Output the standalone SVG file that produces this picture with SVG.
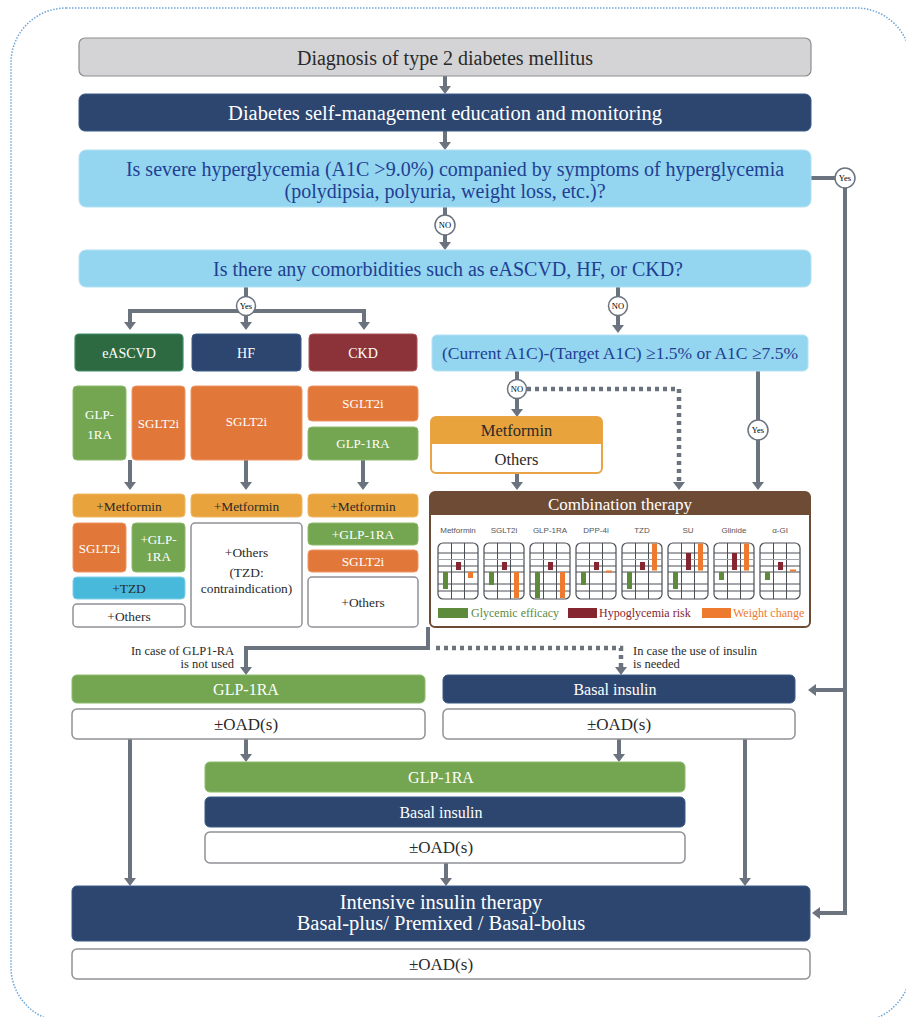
<svg xmlns="http://www.w3.org/2000/svg" width="906" height="1017" viewBox="0 0 906 1017">
<style>
text{font-family:"Liberation Serif","Times New Roman",serif;dominant-baseline:central;text-anchor:middle}
.gray{fill:#d4d4d6;stroke:#8e8e90;stroke-width:1.2}
.navy{fill:#2c4670;stroke:#3a5a86;stroke-width:1}
.q{fill:#94d5f0;stroke:#b3e1f4;stroke-width:1}
.qt{fill:#1f3f93;font-size:20px}
.wt{fill:#fff}
.green{fill:#74a652;stroke:#8cbb6c;stroke-width:1}
.orange{fill:#e2773a;stroke:#ec9664;stroke-width:1}
.gold{fill:#e8a33d;stroke:#eeb865;stroke-width:1}
.cyan{fill:#48b9da;stroke:#7fd0e8;stroke-width:1}
.white{fill:#fff;stroke:#8e9196;stroke-width:1.5}
.dk{fill:#2a2a2a}
.con{fill:none;stroke:#6b737e;stroke-width:4}
.dot{fill:none;stroke:#6b737e;stroke-width:4.5;stroke-dasharray:4 4}
.circ{fill:#fff;stroke:#6b737e;stroke-width:1.5}
.ch{fill:#fff;stroke:#4a4f55;stroke-width:1.2}
.gl{stroke:#4a4f55;stroke-width:1}
.gl2{stroke:#a0a4a8;stroke-width:1.2}
.lab{font-family:"Liberation Sans",Arial,sans-serif;font-size:8px;fill:#555}
.bg{fill:#5e8a3c}.br{fill:#852530}.bo{fill:#ee7a30}
</style>
<defs>
<marker id="ah" viewBox="0 0 10 10" refX="2" refY="5" markerWidth="8" markerHeight="12" markerUnits="userSpaceOnUse" orient="auto" preserveAspectRatio="none"><path d="M0,0 L10,5 L0,10 z" fill="#6b737e"/></marker>
</defs>
<rect x="11" y="8" width="900" height="1014" rx="55" fill="none" stroke="#6fa6d6" stroke-width="1.5" stroke-dasharray="1.5 1.5"/>

<g id="connectors">
<path class="con" d="M445,76 V87.6" marker-end="url(#ah)"/>
<path class="con" d="M445,131 V143.6" marker-end="url(#ah)"/>
<path class="con" d="M445,207 V243.6" marker-end="url(#ah)"/>
<path class="con" d="M811,178 H845 V913 H818.4" marker-end="url(#ah)"/>
<path class="con" d="M845,690 H814.4" marker-end="url(#ah)"/>
<path class="con" d="M246,287 V311"/>
<path class="con" d="M246,311 H130 V323.6" marker-end="url(#ah)"/>
<path class="con" d="M246,311 H364 V323.6" marker-end="url(#ah)"/>
<path class="con" d="M246,311 V323.6" marker-end="url(#ah)"/>
<path class="con" d="M618,287 V326.6" marker-end="url(#ah)"/>
<path class="con" d="M130,460 V483.6" marker-end="url(#ah)"/>
<path class="con" d="M246,460 V483.6" marker-end="url(#ah)"/>
<path class="con" d="M363,460 V483.6" marker-end="url(#ah)"/>
<path class="con" d="M517,371 V410.6" marker-end="url(#ah)"/>
<path class="dot" d="M527,389 H679 V483.6" marker-end="url(#ah)"/>
<path class="con" d="M517,473 V483.6" marker-end="url(#ah)"/>
<path class="con" d="M758,371 V483.6" marker-end="url(#ah)"/>
<path class="con" d="M428,627 V648 H246 V668.6" marker-end="url(#ah)"/>
<path class="dot" d="M436,648 H621 V668.6" marker-end="url(#ah)"/>
<path class="con" d="M130,739 V879.6" marker-end="url(#ah)"/>
<path class="con" d="M246,739 V755.6" marker-end="url(#ah)"/>
<path class="con" d="M619,739 V755.6" marker-end="url(#ah)"/>
<path class="con" d="M745,739 V879.6" marker-end="url(#ah)"/>
<path class="con" d="M446,863 V879.6" marker-end="url(#ah)"/>
<circle class="circ" cx="445" cy="225" r="10"/><text x="445" y="225" font-size="8.5">NO</text>
<circle class="circ" cx="845" cy="178" r="10"/><text x="845" y="178" font-size="8.5">Yes</text>
<circle class="circ" cx="246" cy="306" r="9.5"/><text x="246" y="306" font-size="8.5">Yes</text>
<circle class="circ" cx="618" cy="306" r="9.5"/><text x="618" y="306" font-size="8.5">NO</text>
<circle class="circ" cx="517" cy="389" r="9.5"/><text x="517" y="389" font-size="8.5">NO</text>
<circle class="circ" cx="758" cy="430" r="10"/><text x="758" y="430" font-size="8.5">Yes</text>
<text x="234" y="651" font-size="12.5" style="text-anchor:end" class="dk">In case of GLP1-RA</text>
<text x="234" y="664" font-size="12.5" style="text-anchor:end" class="dk">is not used</text>
<text x="633" y="651" font-size="12.5" style="text-anchor:start" class="dk">In case the use of insulin</text>
<text x="633" y="664" font-size="12.5" style="text-anchor:start" class="dk">is needed</text>
</g>

<g id="diagnosis"><rect class="gray" x="79" y="38" width="732" height="38" rx="6"/><text x="445" y="58" font-size="20" class="dk">Diagnosis of type 2 diabetes mellitus</text></g>
<g id="education"><rect class="navy" x="79" y="94" width="732" height="37" rx="6"/><text x="445" y="113" font-size="20.5" class="wt">Diabetes self-management education and monitoring</text></g>
<g id="q-severe"><rect class="q" x="79" y="150" width="732" height="57" rx="7"/><text x="455" y="169" class="qt">Is severe hyperglycemia (A1C &gt;9.0%) companied by symptoms of hyperglycemia</text><text x="445" y="191" class="qt">(polydipsia, polyuria, weight loss, etc.)?</text></g>
<g id="q-comorb"><rect class="q" x="79" y="250" width="732" height="37" rx="7"/><text x="448" y="269" class="qt">Is there any comorbidities such as eASCVD, HF, or CKD?</text></g>

<g id="eascvd"><rect x="75" y="334" width="108" height="37" rx="4" fill="#2d6a42" stroke="#3f8c6a" stroke-width="1.2"/><text x="129" y="353" font-size="14" class="wt">eASCVD</text></g>
<g id="hf"><rect class="navy" x="192" y="334" width="109" height="37" rx="4"/><text x="246" y="353" font-size="14" class="wt">HF</text></g>
<g id="ckd"><rect x="309" y="334" width="108" height="37" rx="4" fill="#8b3339" stroke="#a8545a" stroke-width="1"/><text x="363" y="353" font-size="14" class="wt">CKD</text></g>

<g id="e-glp"><rect class="green" x="73" y="386" width="53" height="74" rx="4"/><text x="99.5" y="414" font-size="13" class="wt">GLP-</text><text x="99.5" y="434" font-size="13" class="wt">1RA</text></g>
<g id="e-sglt"><rect class="orange" x="132" y="386" width="53" height="74" rx="4"/><text x="158.5" y="423" font-size="13" class="wt">SGLT2i</text></g>
<g id="h-sglt"><rect class="orange" x="191" y="386" width="111" height="74" rx="4"/><text x="246.5" y="421" font-size="13" class="wt">SGLT2i</text></g>
<g id="c-sglt"><rect class="orange" x="308" y="386" width="110" height="35" rx="4"/><text x="363" y="403" font-size="13" class="wt">SGLT2i</text></g>
<g id="c-glp"><rect class="green" x="308" y="427" width="110" height="33" rx="4"/><text x="363" y="443.5" font-size="13" class="wt">GLP-1RA</text></g>

<g id="e-met"><rect class="gold" x="73" y="494" width="112" height="23" rx="4"/><text x="129" y="506" font-size="13.4" class="dk">+Metformin</text></g>
<g id="h-met"><rect class="gold" x="191" y="494" width="111" height="23" rx="4"/><text x="246.5" y="506" font-size="13.4" class="dk">+Metformin</text></g>
<g id="c-met"><rect class="gold" x="308" y="494" width="110" height="23" rx="4"/><text x="363" y="506" font-size="13.4" class="dk">+Metformin</text></g>

<g id="e-sglt2"><rect class="orange" x="73" y="523" width="53" height="49" rx="4"/><text x="99.5" y="548" font-size="13" class="wt">SGLT2i</text></g>
<g id="e-glp2"><rect class="green" x="132" y="523" width="53" height="49" rx="4"/><text x="158.5" y="539" font-size="13" class="wt">+GLP-</text><text x="158.5" y="556" font-size="13" class="wt">1RA</text></g>
<g id="e-tzd"><rect class="cyan" x="73" y="577" width="112" height="22" rx="4"/><text x="129" y="588.5" font-size="13.4" class="dk">+TZD</text></g>
<g id="e-others"><rect class="white" x="73" y="604" width="112" height="23" rx="4"/><text x="129" y="616" font-size="13.4" class="dk">+Others</text></g>
<g id="h-others"><rect class="white" x="191" y="523" width="111" height="104" rx="4"/><text x="246.5" y="552" font-size="13.4" class="dk">+Others</text><text x="246.5" y="572" font-size="13.4" class="dk">(TZD:</text><text x="246.5" y="588" font-size="13.4" class="dk">contraindication)</text></g>
<g id="c-glp2"><rect class="green" x="308" y="523" width="110" height="22" rx="4"/><text x="363" y="534" font-size="13.4" class="wt">+GLP-1RA</text></g>
<g id="c-sglt2"><rect class="orange" x="308" y="550" width="110" height="22" rx="4"/><text x="363" y="561" font-size="13.4" class="wt">SGLT2i</text></g>
<g id="c-others"><rect class="white" x="308" y="577" width="110" height="50" rx="4"/><text x="363" y="602" font-size="13.4" class="dk">+Others</text></g>

<g id="q-a1c"><rect class="q" x="432" y="335" width="376" height="36" rx="5"/><text x="620" y="353" font-size="17.5" fill="#1f3f93">(Current A1C)-(Target A1C) ≥1.5% or A1C ≥7.5%</text></g>
<g id="metformin-others"><rect x="431" y="417" width="171" height="56" rx="5" fill="#fff" stroke="#e9a448" stroke-width="2"/><path d="M431,444 V422 a5,5 0 0 1 5,-5 H597 a5,5 0 0 1 5,5 V444 z" fill="#e8a33d"/><text x="516.5" y="430.5" font-size="16.5" class="dk">Metformin</text><text x="516.5" y="459" font-size="16.5" class="dk">Others</text></g>

<g id="combination">
<rect x="430" y="492" width="380" height="135" rx="5" fill="#fff" stroke="#6e4b35" stroke-width="2"/>
<path d="M430,515 V497 a5,5 0 0 1 5,-5 H805 a5,5 0 0 1 5,5 V515 z" fill="#6e4b35"/>
<text x="620" y="504" font-size="17" class="wt">Combination therapy</text>
<g id="chart-metformin" transform="translate(438,0)"><text class="lab" x="20" y="530">Metformin</text><rect class="ch" x="0" y="543" width="40" height="56" rx="5"/><path class="gl" d="M13.5,543V599M26.5,543V599M0,553H40M0,566H40M0,572H40M0,584H40M0,591H40"/><path class="gl2" d="M0,559.5H40"/><rect class="bg" x="5" y="572" width="5" height="17"/><rect class="br" x="18" y="562" width="5" height="8"/><rect class="bo" x="30" y="572" width="5" height="6"/></g>
<g id="chart-sglt2i" transform="translate(484,0)"><text class="lab" x="20" y="530">SGLT2i</text><rect class="ch" x="0" y="543" width="40" height="56" rx="5"/><path class="gl" d="M13.5,543V599M26.5,543V599M0,553H40M0,566H40M0,572H40M0,584H40M0,591H40"/><path class="gl2" d="M0,559.5H40"/><rect class="bg" x="5" y="572" width="5" height="13"/><rect class="br" x="18" y="562" width="5" height="8"/><rect class="bo" x="30" y="572" width="5" height="26"/></g>
<g id="chart-glp1ra" transform="translate(530,0)"><text class="lab" x="20" y="530">GLP-1RA</text><rect class="ch" x="0" y="543" width="40" height="56" rx="5"/><path class="gl" d="M13.5,543V599M26.5,543V599M0,553H40M0,566H40M0,572H40M0,584H40M0,591H40"/><path class="gl2" d="M0,559.5H40"/><rect class="bg" x="5" y="572" width="5" height="26"/><rect class="br" x="18" y="562" width="5" height="8"/><rect class="bo" x="30" y="572" width="5" height="26"/></g>
<g id="chart-dpp4i" transform="translate(576,0)"><text class="lab" x="20" y="530">DPP-4i</text><rect class="ch" x="0" y="543" width="40" height="56" rx="5"/><path class="gl" d="M13.5,543V599M26.5,543V599M0,553H40M0,566H40M0,572H40M0,584H40M0,591H40"/><path class="gl2" d="M0,559.5H40"/><rect class="bg" x="5" y="572" width="5" height="13"/><rect class="br" x="18" y="562" width="5" height="8"/><rect class="bo" x="30" y="570.5" width="6" height="2"/></g>
<g id="chart-tzd" transform="translate(622,0)"><text class="lab" x="20" y="530">TZD</text><rect class="ch" x="0" y="543" width="40" height="56" rx="5"/><path class="gl" d="M13.5,543V599M26.5,543V599M0,553H40M0,566H40M0,572H40M0,584H40M0,591H40"/><path class="gl2" d="M0,559.5H40"/><rect class="bg" x="5" y="572" width="5" height="17"/><rect class="br" x="18" y="562" width="5" height="8"/><rect class="bo" x="30" y="543.5" width="5" height="27"/></g>
<g id="chart-su" transform="translate(668,0)"><text class="lab" x="20" y="530">SU</text><rect class="ch" x="0" y="543" width="40" height="56" rx="5"/><path class="gl" d="M13.5,543V599M26.5,543V599M0,553H40M0,566H40M0,572H40M0,584H40M0,591H40"/><path class="gl2" d="M0,559.5H40"/><rect class="bg" x="5" y="572" width="5" height="17"/><rect class="br" x="18" y="553" width="5" height="17"/><rect class="bo" x="30" y="543.5" width="5" height="27"/></g>
<g id="chart-glinide" transform="translate(714,0)"><text class="lab" x="20" y="530">Glinide</text><rect class="ch" x="0" y="543" width="40" height="56" rx="5"/><path class="gl" d="M13.5,543V599M26.5,543V599M0,553H40M0,566H40M0,572H40M0,584H40M0,591H40"/><path class="gl2" d="M0,559.5H40"/><rect class="bg" x="5" y="572" width="5" height="8"/><rect class="br" x="18" y="553" width="5" height="17"/><rect class="bo" x="30" y="543.5" width="5" height="27"/></g>
<g id="chart-agi" transform="translate(760,0)"><text class="lab" x="20" y="530">α-GI</text><rect class="ch" x="0" y="543" width="40" height="56" rx="5"/><path class="gl" d="M13.5,543V599M26.5,543V599M0,553H40M0,566H40M0,572H40M0,584H40M0,591H40"/><path class="gl2" d="M0,559.5H40"/><rect class="bg" x="5" y="572" width="5" height="8"/><rect class="br" x="18" y="562" width="5" height="8"/><rect class="bo" x="30" y="569.5" width="6" height="2"/></g>
<rect x="438" y="608" width="30" height="10" class="bg"/><text x="471" y="613" font-size="12" fill="#5e8a3c" style="text-anchor:start">Glycemic efficacy</text>
<rect x="568" y="608" width="29" height="10" class="br"/><text x="599" y="613" font-size="12" fill="#852530" style="text-anchor:start">Hypoglycemia risk</text>
<rect x="702" y="608" width="29" height="10" class="bo"/><text x="733" y="613" font-size="12" fill="#ee7a30" style="text-anchor:start">Weight change</text>
</g>

<g id="glp1ra-1"><rect class="green" x="72" y="675" width="353" height="28" rx="5"/><text x="246" y="689" font-size="16" class="wt">GLP-1RA</text></g>
<g id="oad-1"><rect class="white" x="72" y="709" width="353" height="30" rx="5"/><text x="246" y="724" font-size="17" class="dk">±OAD(s)</text></g>
<g id="basal-1"><rect class="navy" x="443" y="675" width="352" height="28" rx="5"/><text x="615" y="689" font-size="16" class="wt">Basal insulin</text></g>
<g id="oad-2"><rect class="white" x="443" y="709" width="352" height="30" rx="5"/><text x="619" y="724" font-size="17" class="dk">±OAD(s)</text></g>

<g id="glp1ra-2"><rect class="green" x="205" y="762" width="480" height="30" rx="5"/><text x="441" y="777" font-size="16" class="wt">GLP-1RA</text></g>
<g id="basal-2"><rect class="navy" x="205" y="797" width="480" height="30" rx="5"/><text x="441" y="812" font-size="16" class="wt">Basal insulin</text></g>
<g id="oad-3"><rect class="white" x="205" y="832" width="480" height="31" rx="5"/><text x="441" y="847.5" font-size="17" class="dk">±OAD(s)</text></g>

<g id="intensive"><rect class="navy" x="72" y="886" width="738" height="55" rx="5"/><text x="441" y="902" font-size="20.5" class="wt">Intensive insulin therapy</text><text x="441" y="923" font-size="20.5" class="wt">Basal-plus/ Premixed / Basal-bolus</text></g>
<g id="oad-4"><rect class="white" x="72" y="949" width="738" height="30" rx="5"/><text x="441" y="964" font-size="17" class="dk">±OAD(s)</text></g>
</svg>
